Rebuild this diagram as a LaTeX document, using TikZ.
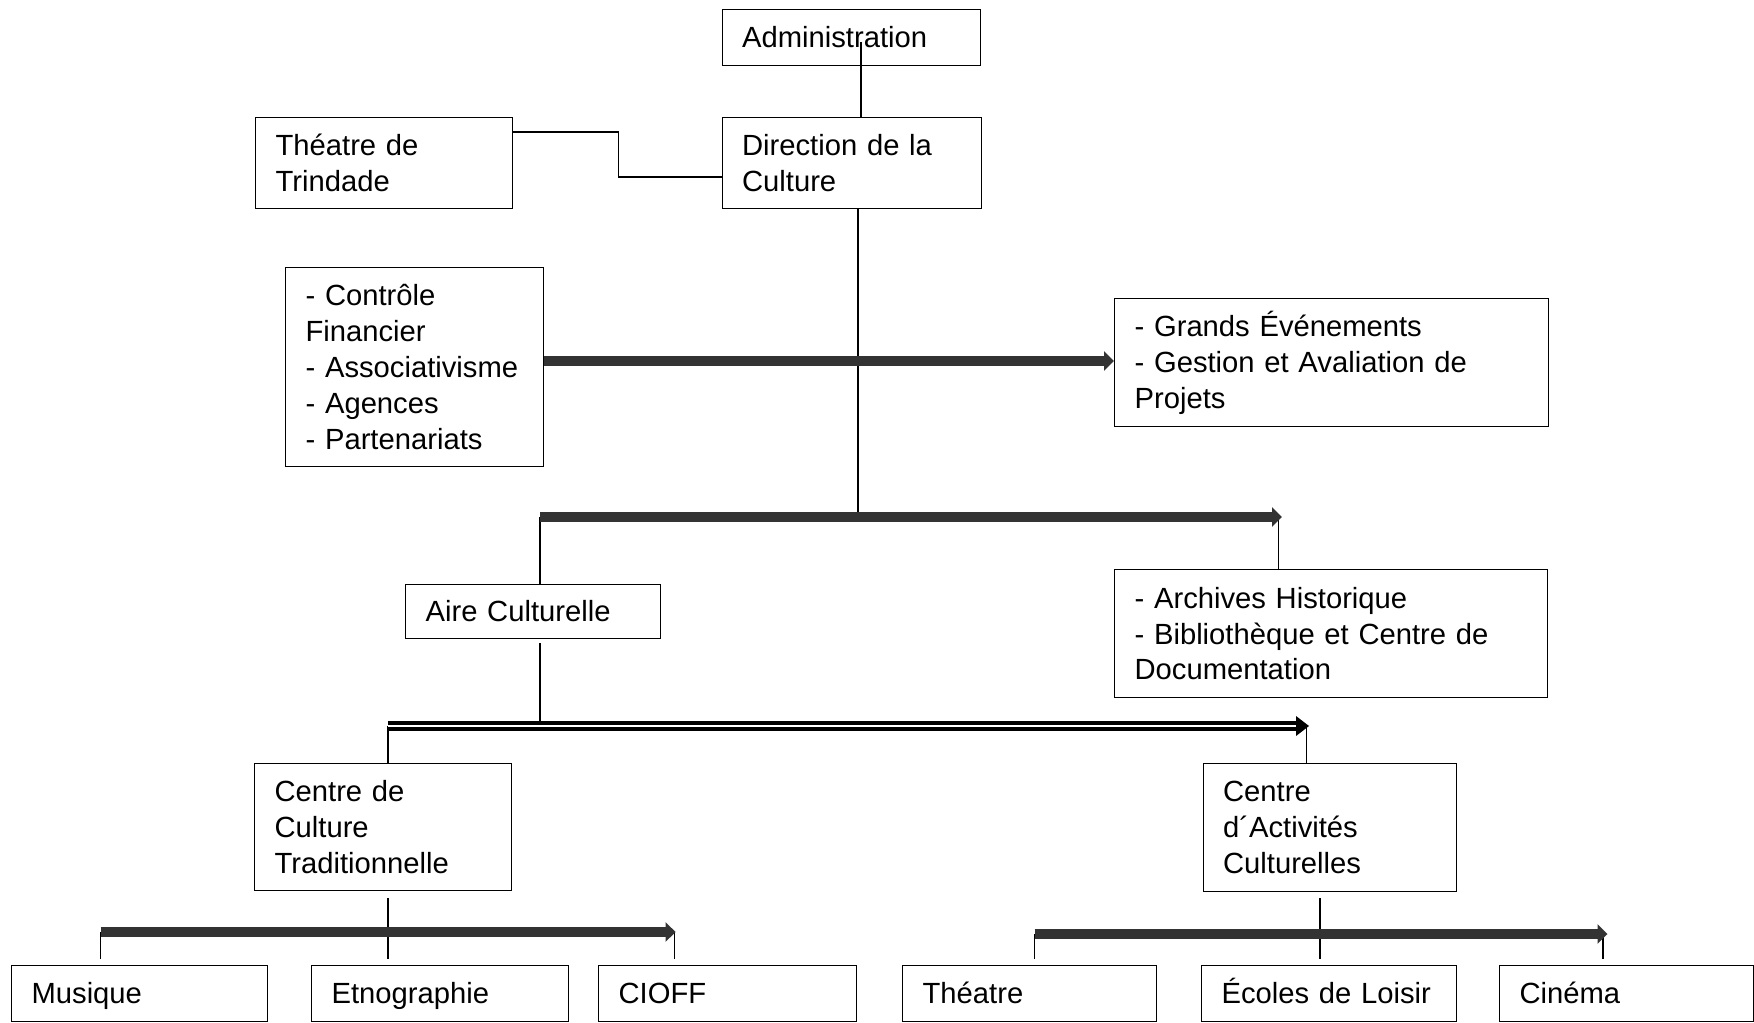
\documentclass[tikz,border=0pt]{standalone}
\usepackage{fontspec}
\setmainfont{Liberation Sans}
\usetikzlibrary{arrows.meta}

\newcommand{\orgfont}{\fontsize{14.6}{17.9}\selectfont}

\tikzset{
  box/.style={draw, line width=0.6pt, anchor=north west, align=left,
    inner xsep=10pt, inner ysep=0pt, font=\orgfont},
  one/.style={execute at begin node=\vphantom{Éy}},
  link/.style={line width=0.7pt},
  bus/.style={line width=4.8pt, black!80, -{Triangle[length=5pt,width=9.5pt]}},
  dbus/.style={double, double distance=1pt, line width=2pt}
}

\begin{document}
\begin{tikzpicture}[x=0.5pt,y=-0.5pt]
  \useasboundingbox (0,0) rectangle (1754,1022);

  \node[box, one, text width=109.25pt, minimum height=28pt] (adm) at (721.5,9) {Administration};
  \node[box, text width=108.5pt, minimum height=45.5pt] (trind) at (255,117) {Théatre de\\Trindade};
  \node[box, text width=109.75pt, minimum height=45.5pt] (dir) at (721.5,117) {Direction de la\\Culture};
  \node[box, text width=108.75pt, minimum height=99.5pt] (ctrl) at (285,267)
    {- Contrôle\\Financier\\- Associativisme\\- Agences\\- Partenariats};
  \node[box, text width=197pt, minimum height=64pt] (grands) at (1114,298)
    {- Grands Événements\\- Gestion et Avaliation de\\Projets};
  \node[box, one, text width=107.5pt, minimum height=27pt] (aire) at (405,584) {Aire Culturelle};
  \node[box, text width=196.5pt, minimum height=64pt] (arch) at (1114,569)
    {- Archives Historique\\- Bibliothèque et Centre de\\Documentation};
  \node[box, text width=108.5pt, minimum height=63.5pt] (cct) at (254,763)
    {Centre de\\Culture\\Traditionnelle};
  \node[box, text width=106.75pt, minimum height=64pt] (cac) at (1202.5,763)
    {Centre\\d´Activités\\Culturelles};

  \node[box, one, text width=108pt, minimum height=28pt] (mus) at (11,965) {Musique};
  \node[box, one, text width=108.5pt, minimum height=28pt] (etno) at (311,965) {Etnographie};
  \node[box, one, text width=109pt, minimum height=28pt] (cioff) at (598,965) {CIOFF};
  \node[box, one, text width=107pt, minimum height=28pt] (theat) at (902,965) {Théatre};
  \node[box, one, text width=107.5pt, minimum height=28pt] (ecoles) at (1201,965) {Écoles de Loisir};
  \node[box, one, text width=107pt, minimum height=28pt] (cine) at (1499,965) {Cinéma};

  \coordinate (admline) at (861,42);
  \coordinate (tlink1) at (618.5,132);
  \coordinate (tlink2) at (618.5,177);
  \coordinate (trunk) at (858,517);
  \coordinate (b1) at (0,361);
  \coordinate (b2l) at (540,517);
  \coordinate (b2r) at (1282,517);
  \coordinate (archlink) at (1278.5,517);
  \coordinate (airelink) at (540,643);
  \coordinate (dl) at (388,726);
  \coordinate (dr) at (1309,726);
  \coordinate (drb) at (1297,726);
  \coordinate (caclink) at (1306.5,726);
  \coordinate (b3l) at (100.7,932);
  \coordinate (b3r) at (675.6,932);
  \coordinate (cioffl) at (674.5,932);
  \coordinate (cctl) at (388,898);
  \coordinate (b4l) at (1034.7,934);
  \coordinate (b4r) at (1607.5,934);
  \coordinate (cinel) at (1603,934);
  \coordinate (cacl) at (1320,898);

  \draw[link] (admline) -- (admline |- dir.north);
  \draw[link] (tlink1 -| trind.east) -- (tlink1) -- (tlink2) -- (tlink2 -| dir.west);
  \draw[link] (trunk |- dir.south) -- (trunk);
  \draw[link] (b2l) -- (b2l |- aire.north);
  \draw[link] (archlink) -- (archlink |- arch.north);
  \draw[link] (airelink) -- (airelink |- dl);
  \draw[link] (dl) -- (dl |- cct.north);
  \draw[link] (caclink) -- (caclink |- cac.north);
  \draw[link, shorten >=3pt] (b3l) -- (b3l |- mus.north);
  \draw[link, shorten >=3pt] (cctl) -- (cctl |- etno.north);
  \draw[link, shorten >=3pt] (cioffl) -- (cioffl |- cioff.north);
  \draw[link, shorten >=3pt] (b4l) -- (b4l |- theat.north);
  \draw[link, shorten >=3pt] (cacl) -- (cacl |- ecoles.north);
  \draw[link, shorten >=3pt] (cinel) -- (cinel |- cine.north);

  \draw[bus] (ctrl.east |- b1) -- (grands.west |- b1);
  \draw[bus] (b2l) -- (b2r);
  \draw[dbus] (dl) -- (drb);
  \fill (dr) -- ++(-13,-10) -- ++(0,20) -- cycle;
  \draw[bus] (b3l) -- (b3r);
  \draw[bus] (b4l) -- (b4r);
\end{tikzpicture}
\end{document}
